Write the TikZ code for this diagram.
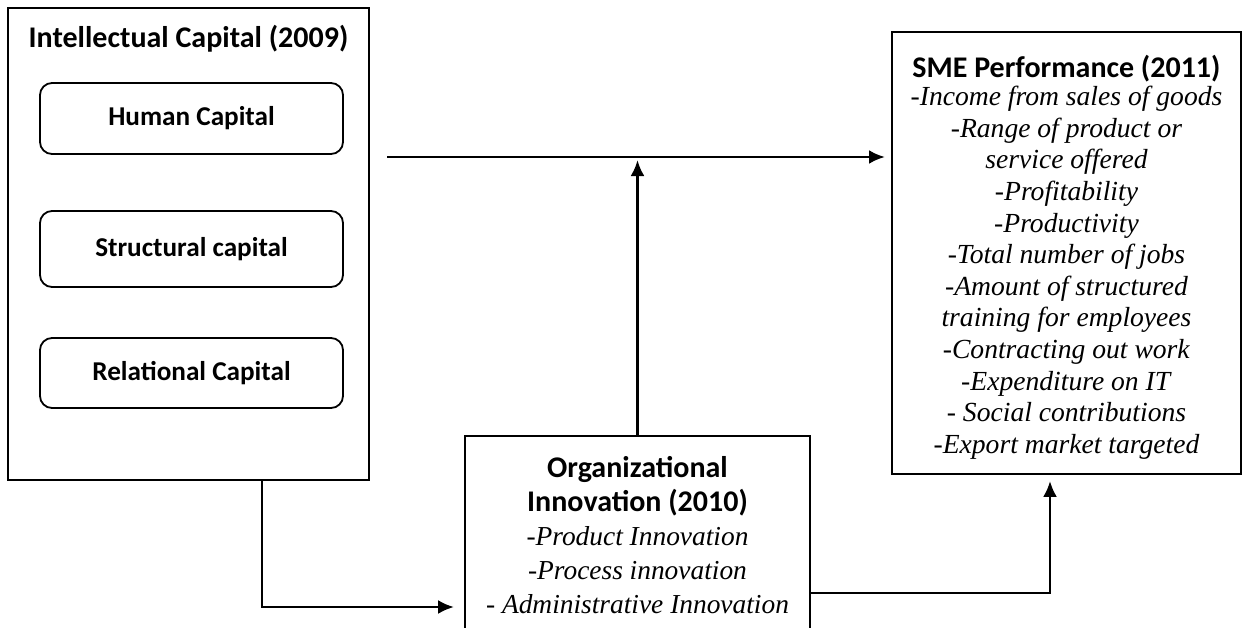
\documentclass[tikz,border=0pt]{standalone}
\usepackage{fontspec}
\setmainfont{Liberation Serif}
\setsansfont{Carlito}
\usetikzlibrary{arrows.meta,calc}
\begin{document}
\begin{tikzpicture}[x=0.5pt,y=-0.5pt,
  box/.style={draw,line width=0.9pt,inner sep=0pt},
  sub/.style={box,rounded corners=6pt,minimum width=151.5pt,font=\sffamily\bfseries\fontsize{13.6}{16}\selectfont},
  hd/.style={font=\sffamily\bfseries\fontsize{15}{16}\selectfont},
  arr/.style={line width=1.45pt,-{Latex[length=8pt,width=7pt]}}]
\useasboundingbox (0,0) rectangle (1243,627);
\clip (0,0) rectangle (1243,627);
% left block
\node[box,minimum width=180.5pt,minimum height=236pt] (ic) at (188.5,244) {};
\node[hd] (ictitle) at (188.5,39) {Intellectual Capital (2009)};
\node[sub,minimum height=35.5pt] (hc) at (191.5,118.5) {Human Capital};
\node[sub,minimum height=38pt] (sc) at (191.5,249) {Structural capital};
\node[sub,minimum height=35pt] (rc) at (191.5,373) {Relational Capital};
% SME performance
\node[box,minimum width=174.5pt,minimum height=221pt] (sme) at (1066.5,253) {};
\node[align=center,inner sep=0pt,font=\fontsize{13.8}{15.8}\selectfont] (smetext) at (1066.5,257)
  {{\sffamily\bfseries\fontsize{15}{16}\selectfont SME Performance (2011)}\\[-1.5pt]
   \textit{-Income from sales of goods}\\
   \textit{-Range of product or}\\
   \textit{service offered}\\
   \textit{-Profitability}\\
   \textit{-Productivity}\\
   \textit{-Total number of jobs}\\
   \textit{-Amount of structured}\\
   \textit{training for employees}\\
   \textit{-Contracting out work}\\
   \textit{-Expenditure on IT}\\
   \textit{- Social contributions}\\
   \textit{-Export market targeted}};
% Organizational innovation
\node[box,minimum width=172.5pt,minimum height=99pt] (oi) at (637.5,535) {};
\node[align=center,inner sep=0pt,font=\fontsize{13.7}{17}\selectfont] (oitext) at (637.5,535)
  {{\sffamily\bfseries\fontsize{15}{17}\selectfont Organizational}\\
   {\sffamily\bfseries\fontsize{15}{17}\selectfont Innovation (2010)}\\
   \textit{-Product Innovation}\\
   \textit{-Process innovation}\\
   \textit{- Administrative Innovation}};
% connectors
\coordinate (hs) at (387,157);
\coordinate (he) at (885,157);
\draw[arr] (hs) -- (he);
\draw[arr,shorten >=1.5pt] (oi.north) -- (oi.north |- hs);
\draw[arr,shorten >=5pt] (ic.south -| 262,0) |- (oi.west |- 0,607);
\draw[arr,shorten >=3pt] (oi.east |- 0,593) -| (sme.south -| 1050,0);
\end{tikzpicture}
\end{document}
